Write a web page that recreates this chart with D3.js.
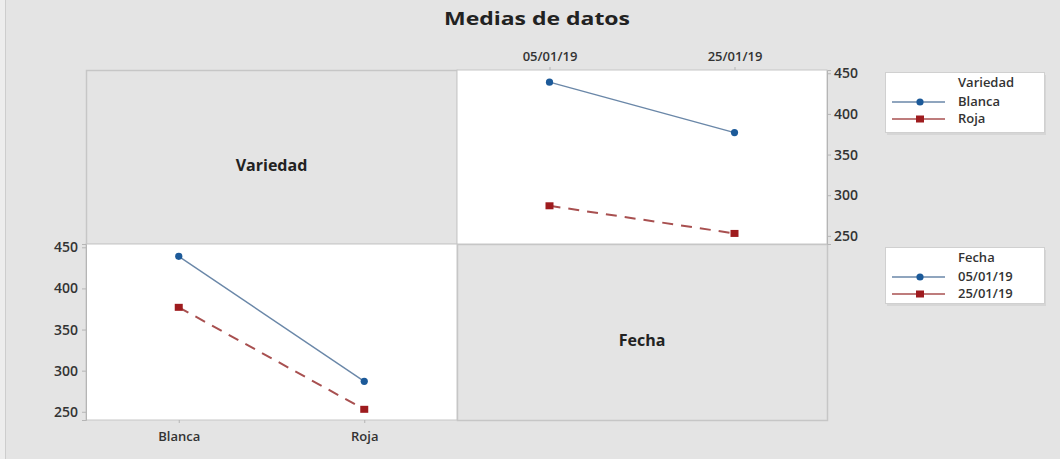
<!DOCTYPE html>
<meta charset="utf-8">
<style>
  body { margin: 0; background: #e4e4e4; }
  svg { display: block; font-family: "Open Sans", "DejaVu Sans", sans-serif; }
  .tick text { fill: #333; font-weight: 600; font-family: "Open Sans", "DejaVu Sans", sans-serif; }
</style>
<script src="https://d3js.org/d3.v7.min.js"></script>
<body>
<svg id="chart" width="1060" height="459"></svg>
<script>
// data: interaction means (Variedad x Fecha)
var variedades = ["Blanca", "Roja"];
var fechas = ["05/01/19", "25/01/19"];
var mediaBlanca = [439, 377];   // by fecha
var mediaRoja = [287, 253];     // by fecha
var yTicks = [250, 300, 350, 400, 450];

var blue = "#1c5a99", blueLine = "#6a87a8";
var red = "#9e1b1e", redLine = "#a85050";

var W = 1060, H = 459;
var x0 = 86, x1 = 457, x2 = 827;
var y0 = 70, y1 = 244, y2 = 420;

var svg = d3.select("#chart");

// outer frame
svg.append("rect").attr("width", W).attr("height", H).attr("fill", "#e4e4e4");
svg.append("rect").attr("width", 5).attr("height", H).attr("fill", "#ededed");
svg.append("line").attr("x1", 5.5).attr("x2", 5.5).attr("y1", 0).attr("y2", H)
  .attr("stroke", "#cdcdcd");

svg.append("text").attr("x", 537).attr("y", 25).attr("text-anchor", "middle")
  .attr("font-size", 17).attr("font-weight", 700).attr("fill", "#222")
  .attr("textLength", 186).attr("lengthAdjust", "spacingAndGlyphs")
  .text("Medias de datos");

// diagonal label panels
function labelPanel(xa, xb, ya, yb, txt) {
  svg.append("rect").attr("x", xa + 0.5).attr("y", ya + 0.5)
    .attr("width", xb - xa).attr("height", yb - ya)
    .attr("fill", "#e4e4e4").attr("stroke", "#c6c6c6").attr("stroke-width", 1.5);
  svg.append("text").attr("x", (xa + xb) / 2).attr("y", (ya + yb) / 2 + 14)
    .attr("text-anchor", "middle").attr("font-size", 16).attr("font-weight", 700)
    .attr("fill", "#222").text(txt);
}
labelPanel(x0, x1, y0, y1, "Variedad");
labelPanel(x1, x2, y1, y2, "Fecha");

var yDomain = [240, 454];

// top-right: x = fecha, lines by variedad
(function () {
  var g = svg.append("g");
  var x = d3.scalePoint().domain(fechas).range([x1, x2]).padding(0.5);
  var y = d3.scaleLinear().domain(yDomain).range([y1, y0]);
  g.append("rect").attr("x", x1).attr("y", y0).attr("width", x2 - x1).attr("height", y1 - y0)
    .attr("fill", "#fff").attr("stroke", "#c6c6c6");
  var ax = g.append("g").attr("transform", "translate(" + x2 + ",0)")
    .call(d3.axisRight(y).tickValues(yTicks).tickSize(4).tickPadding(3));
  ax.select(".domain").attr("stroke", "#b5b5b5");
  ax.selectAll(".tick line").attr("stroke", "#b5b5b5");
  ax.selectAll("text").attr("font-size", 14);
  var axt = g.append("g").attr("transform", "translate(0," + y0 + ")")
    .call(d3.axisTop(x).tickSize(3).tickPadding(6));
  axt.select(".domain").remove();
  axt.selectAll(".tick line").attr("stroke", "#b5b5b5");
  axt.selectAll("text").attr("font-size", 13);

  var series = [
    { vals: mediaBlanca, c: blue, lc: blueLine, dash: null, shape: "circle" },
    { vals: mediaRoja, c: red, lc: redLine, dash: "11,8", shape: "square" }
  ];
  drawSeries(g, series, fechas, x, y);
})();

// bottom-left: x = variedad, lines by fecha
(function () {
  var g = svg.append("g");
  var x = d3.scalePoint().domain(variedades).range([x0, x1]).padding(0.5);
  var y = d3.scaleLinear().domain(yDomain).range([y2, y1]);
  g.append("rect").attr("x", x0).attr("y", y1).attr("width", x1 - x0).attr("height", y2 - y1)
    .attr("fill", "#fff").attr("stroke", "#c6c6c6");
  var ay = g.append("g").attr("transform", "translate(" + x0 + ",0)")
    .call(d3.axisLeft(y).tickValues(yTicks).tickSize(4).tickPadding(4));
  ay.select(".domain").attr("stroke", "#b5b5b5");
  ay.selectAll(".tick line").attr("stroke", "#b5b5b5");
  ay.selectAll("text").attr("font-size", 14);
  var axb = g.append("g").attr("transform", "translate(0," + y2 + ")")
    .call(d3.axisBottom(x).tickSize(3).tickPadding(9));
  axb.select(".domain").remove();
  axb.selectAll(".tick line").attr("stroke", "#b5b5b5");
  axb.selectAll("text").attr("font-size", 13);

  var series = [
    { vals: [mediaBlanca[0], mediaRoja[0]], c: blue, lc: blueLine, dash: null, shape: "circle" },
    { vals: [mediaBlanca[1], mediaRoja[1]], c: red, lc: redLine, dash: "11,8", shape: "square" }
  ];
  drawSeries(g, series, variedades, x, y);
})();

function drawSeries(g, series, cats, x, y) {
  series.forEach(function (s) {
    var pts = s.vals.map(function (v, i) { return [x(cats[i]), y(v)]; });
    g.append("path").attr("d", d3.line()(pts)).attr("fill", "none")
      .attr("stroke", s.lc).attr("stroke-width", s.dash ? 2 : 1.4)
      .attr("stroke-dasharray", s.dash);
    pts.forEach(function (p) { marker(g, p[0], p[1], s); });
  });
}

function marker(g, cx, cy, s) {
  if (s.shape === "circle") {
    g.append("circle").attr("cx", cx).attr("cy", cy).attr("r", 3.6).attr("fill", s.c);
  } else {
    g.append("rect").attr("x", cx - 4).attr("y", cy - 3.5).attr("width", 8).attr("height", 7)
      .attr("fill", s.c);
  }
}

// legends
function legend(xa, ya, h, title, labels) {
  var g = svg.append("g");
  g.append("rect").attr("x", xa + 2).attr("y", ya + 3).attr("width", 159).attr("height", h)
    .attr("fill", "#d6d6d6");
  g.append("rect").attr("x", xa + 0.5).attr("y", ya + 0.5).attr("width", 159).attr("height", h)
    .attr("fill", "#fff").attr("stroke", "#d0d0d0");
  g.append("text").attr("x", 958).attr("y", ya + 15).attr("font-size", 13)
    .attr("font-weight", 600).attr("fill", "#333").text(title);
  var items = [
    { c: blue, lc: blueLine, shape: "circle" },
    { c: red, lc: redLine, shape: "square" }
  ];
  labels.forEach(function (lab, i) {
    var yy = ya + 30 + i * 17;
    g.append("line").attr("x1", 892).attr("x2", 945).attr("y1", yy).attr("y2", yy)
      .attr("stroke", items[i].lc).attr("stroke-width", 1.4);
    marker(g, 920, yy, items[i]);
    g.append("text").attr("x", 958).attr("y", yy + 4).attr("font-size", 13)
      .attr("font-weight", 600).attr("fill", "#333").text(lab);
  });
}
legend(885, 72, 60, "Variedad", variedades);
legend(885, 247, 56, "Fecha", fechas);
</script>
</body>
